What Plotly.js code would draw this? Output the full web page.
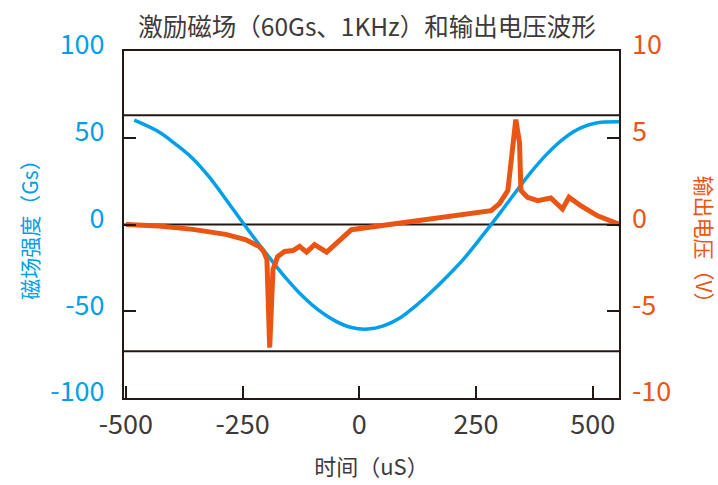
<!DOCTYPE html>
<html>
<head>
<meta charset="utf-8">
<script src="https://cdn.plot.ly/plotly-3.0.1.min.js"></script>
<style>html,body{margin:0;padding:0;background:#fff;}#chart{width:718px;height:485px;}</style>
</head>
<body>
<div id="chart"></div>
<script>
// 激励磁场 (Gs) — time in uS
const fieldTime = [-482, -429, -393, -357, -322, -286, -251, -215, -194, -160, -124, -88, -53, -17, 18, 50, 83, 120, 154, 190, 225, 275, 303, 332, 368, 403, 439, 474, 510, 558];
const fieldValue = [60.1, 53.3, 46.2, 38.1, 27.6, 14.6, 1.6, -11.4, -18.6, -30.0, -40.6, -49.2, -55.4, -59.4, -60.3, -58.6, -54.5, -47.0, -38.9, -29.4, -19.4, -2.5, 7.3, 17.7, 30.3, 41.0, 49.8, 55.7, 58.6, 59.2];

// 输出电压 (V)
const voltTime = [-500, -429, -357, -286, -244, -215, -205, -198, -192, -185, -175, -160, -142, -128, -113, -96, -70, -31, -17, 282, 300, 318, 328, 335, 343, 346, 360, 382, 410, 435, 449, 474, 510, 558];
const voltValue = [0.0, -0.09, -0.28, -0.57, -0.87, -1.26, -1.55, -2.0, -7.1, -2.6, -1.85, -1.55, -1.5, -1.26, -1.59, -1.16, -1.59, -0.57, -0.3, 0.8, 1.2, 1.96, 4.7, 6.05, 4.7, 1.96, 1.57, 1.37, 1.53, 0.89, 1.57, 1.08, 0.5, 0.0];

// reference lines on the voltage axis (V)
const refLines = [6.3, 0, -7.3];

const xTicks = [-500, -250, 0, 250, 500];
const yTicks = [-100, -50, 0, 50, 100];
const y2Ticks = [-10, -5, 0, 5, 10];

const BLUE = '#00a0e9';
const ORANGE = '#ea5514';
const INK = '#231815';
const GRAY = '#3e3a39';
const FONT = '"Noto Sans CJK SC", "Noto Sans", sans-serif';

const xRange = [-504, 556];
const yRange = [-100, 100];
const y2Range = [-10, 10];

const traces = [
  {x: fieldTime, y: fieldValue, type: 'scatter', mode: 'lines', xaxis: 'x', yaxis: 'y',
   line: {color: BLUE, width: 3.5, shape: 'spline', smoothing: 1}, hoverinfo: 'skip', showlegend: false},
  {x: voltTime, y: voltValue, type: 'scatter', mode: 'lines', xaxis: 'x', yaxis: 'y2',
   line: {color: ORANGE, width: 5}, hoverinfo: 'skip', showlegend: false}
];

const shapes = refLines.map(v => ({type: 'line', xref: 'paper', x0: 0, x1: 1, yref: 'y2', y0: v, y1: v,
                                   line: {color: INK, width: 2}, layer: 'below'}));

const tickStyle = {ticks: 'inside', ticklen: 12, tickwidth: 2, tickcolor: INK};

const layout = {
  width: 718, height: 485,
  margin: {l: 124, r: 99, t: 51, b: 87},
  paper_bgcolor: '#ffffff', plot_bgcolor: 'rgba(0,0,0,0)',
  font: {family: FONT, color: GRAY},
  showlegend: false,
  title: {text: '激励磁场（60Gs、1KHz）和输出电压波形', font: {family: FONT, size: 24.5, color: GRAY},
          x: 0.491, xref: 'paper', xanchor: 'center', y: 0.944, yref: 'container', yanchor: 'middle'},
  xaxis: Object.assign({range: xRange, tickmode: 'array', tickvals: xTicks, ticktext: xTicks.map(String),
          showgrid: false, zeroline: false, showline: true, mirror: true, linecolor: INK, linewidth: 2,
          tickfont: {size: 27, color: GRAY}, ticklabelstandoff: 2,
          title: {text: '时间（uS）', font: {size: 22, color: GRAY}, standoff: 18}}, tickStyle),
  yaxis: Object.assign({range: yRange, tickmode: 'array', tickvals: yTicks, ticktext: yTicks.map(String),
          showgrid: false, zeroline: false, showline: true, mirror: true, linecolor: INK, linewidth: 2,
          tickfont: {size: 27, color: BLUE}, ticklabelstandoff: 12, ticklabelshift: -6,
          title: {text: '磁场强度（Gs）', font: {size: 21, color: BLUE}, standoff: 6}}, tickStyle),
  yaxis2: Object.assign({range: y2Range, overlaying: 'y', side: 'right', anchor: 'x', tickmode: 'array',
           tickvals: y2Ticks, ticktext: y2Ticks.map(String),
           showgrid: false, zeroline: false, showline: false,
           tickfont: {size: 27, color: ORANGE}, ticklabelstandoff: 12, ticklabelshift: -6}, tickStyle),
  shapes: shapes,
  annotations: [{text: '输出电压（V）', textangle: 90, xref: 'paper', x: 1, xshift: 86, xanchor: 'center',
                 yref: 'paper', y: 0.5, yshift: -20, yanchor: 'middle', showarrow: false,
                 font: {family: FONT, size: 21, color: ORANGE}}]
};

Plotly.newPlot('chart', traces, layout, {staticPlot: true, displayModeBar: false});
</script>
</body>
</html>
